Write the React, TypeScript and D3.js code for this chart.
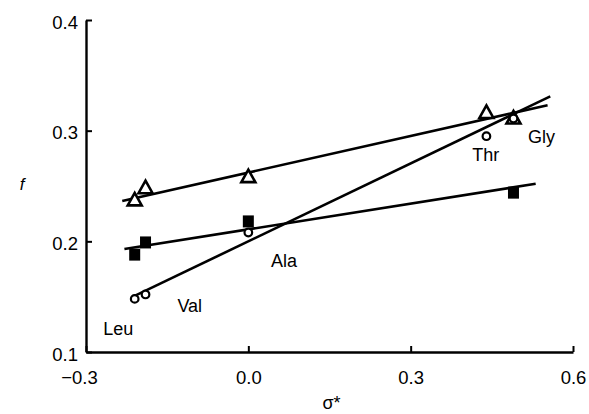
import React, { useEffect, useRef } from "react";
import * as d3 from "d3";

// amino acid residues, sigma* of the side chain
const residues = ["Leu", "Val", "Ala", "Thr", "Gly"];
const sigma = [-0.21, -0.19, 0.0, 0.44, 0.49];

// f for the three series (null = not measured)
const fTriangle = [0.237, 0.248, 0.258, 0.316, 0.311];
const fSquare = [0.188, 0.199, 0.218, null, 0.244];
const fCircle = [0.148, 0.152, 0.208, 0.295, 0.311];

// fitted lines: sigma range and f at both ends
const fitTriangle = [[-0.233, 0.2365], [0.553, 0.323]];
const fitSquare = [[-0.229, 0.193], [0.531, 0.252]];
const fitCircle = [[-0.213, 0.15], [0.558, 0.331]];

// residue label anchors (sigma, f)
const labelPos = [[-0.268, 0.1155], [-0.131, 0.136], [0.042, 0.177], [0.414, 0.273], [0.517, 0.289]];

const xTicks = [-0.3, 0.0, 0.3, 0.6];
const yTicks = [0.1, 0.2, 0.3, 0.4];

const FONT = "'Liberation Sans', Arial, Helvetica, sans-serif";

function Chart() {
  const ref = useRef<SVGSVGElement>(null);

  useEffect(() => {
    if (!ref.current) return;
    const width = 589;
    const height = 414;
    const marginLeft = 86;
    const marginRight = 16;
    const marginTop = 20;
    const marginBottom = 62;

    const x = d3.scaleLinear().domain([-0.3, 0.6]).range([marginLeft, width - marginRight]);
    const y = d3.scaleLinear().domain([0.1, 0.4]).range([height - marginBottom, marginTop]);

    const svg = d3.select(ref.current);
    svg.selectChildren().remove();
    svg.attr("viewBox", [0, 0, width, height]);

    const fmt = (d: number) => (d < 0 ? "\u2212" : "") + Math.abs(d).toFixed(1);

    // x axis, ticks pointing up
    const gx = svg
      .append("g")
      .attr("transform", `translate(0,${y(0.1)})`)
      .call(d3.axisBottom(x).tickValues(xTicks).tickSizeInner(-6).tickSizeOuter(0).tickPadding(19).tickFormat(fmt as any));
    gx.select(".domain").attr("stroke-width", 2.4);
    gx.selectAll(".tick line").attr("stroke-width", 2);
    gx.selectAll(".tick text")
      .attr("font-family", FONT)
      .attr("font-size", 18.5)
      .attr("fill", "#000")
      .attr("dx", (d: any) => (d < 0 ? -7 : 0));

    // y axis, ticks pointing right
    const gy = svg
      .append("g")
      .attr("transform", `translate(${x(-0.3)},0)`)
      .call(d3.axisLeft(y).tickValues(yTicks).tickSizeInner(-6).tickSizeOuter(0).tickPadding(8).tickFormat(d3.format(".1f") as any));
    gy.select(".domain").attr("stroke-width", 2.4);
    gy.selectAll(".tick line").attr("stroke-width", 2);
    gy.selectAll(".tick text")
      .attr("font-family", FONT)
      .attr("font-size", 18.5)
      .attr("fill", "#000")
      .attr("dy", "0.45em");

    // axis titles
    svg
      .append("text")
      .attr("x", (x(-0.3) + x(0.6)) / 2 + 2)
      .attr("y", 409)
      .attr("text-anchor", "middle")
      .attr("font-family", FONT)
      .attr("font-size", 18)
      .text("\u03c3*");

    svg
      .append("text")
      .attr("x", 22)
      .attr("y", 190)
      .attr("text-anchor", "middle")
      .attr("font-family", FONT)
      .attr("font-style", "italic")
      .attr("font-size", 17)
      .text("f");

    // fitted lines
    const line = d3
      .line<number[]>()
      .x((d) => x(d[0]))
      .y((d) => y(d[1]));
    svg
      .append("g")
      .attr("fill", "none")
      .attr("stroke", "#000")
      .attr("stroke-width", 2.6)
      .selectAll("path")
      .data([fitTriangle, fitSquare, fitCircle])
      .join("path")
      .attr("d", (d) => line(d));

    const pts = (vals: (number | null)[]) =>
      vals.map((f, i) => ({ s: sigma[i], f })).filter((d) => d.f !== null) as { s: number; f: number }[];

    // open triangles
    svg
      .append("g")
      .selectAll("path")
      .data(pts(fTriangle))
      .join("path")
      .attr("transform", (d) => `translate(${x(d.s)},${y(d.f)})`)
      .attr("d", "M0,-7.5L7,5L-7,5Z")
      .attr("fill", "#fff")
      .attr("stroke", "#000")
      .attr("stroke-width", 2.6)
      .attr("stroke-linejoin", "miter");

    // filled squares
    svg
      .append("g")
      .selectAll("rect")
      .data(pts(fSquare))
      .join("rect")
      .attr("x", (d) => x(d.s) - 5.5)
      .attr("y", (d) => y(d.f) - 6)
      .attr("width", 11)
      .attr("height", 12)
      .attr("fill", "#000");

    // open circles
    svg
      .append("g")
      .selectAll("circle")
      .data(pts(fCircle))
      .join("circle")
      .attr("cx", (d) => x(d.s))
      .attr("cy", (d) => y(d.f))
      .attr("r", 3.8)
      .attr("fill", "#fff")
      .attr("stroke", "#000")
      .attr("stroke-width", 2.2);

    // residue labels
    svg
      .append("g")
      .attr("font-family", FONT)
      .attr("font-size", 18)
      .selectAll("text")
      .data(residues)
      .join("text")
      .attr("x", (d, i) => x(labelPos[i][0]))
      .attr("y", (d, i) => y(labelPos[i][1]))
      .text((d) => d);
  }, []);

  return <svg ref={ref} width={589} height={414} style={{ position: "absolute", left: 0, top: 0, background: "#fff" }} />;
}

export default function App() {
  return <Chart />;
}
